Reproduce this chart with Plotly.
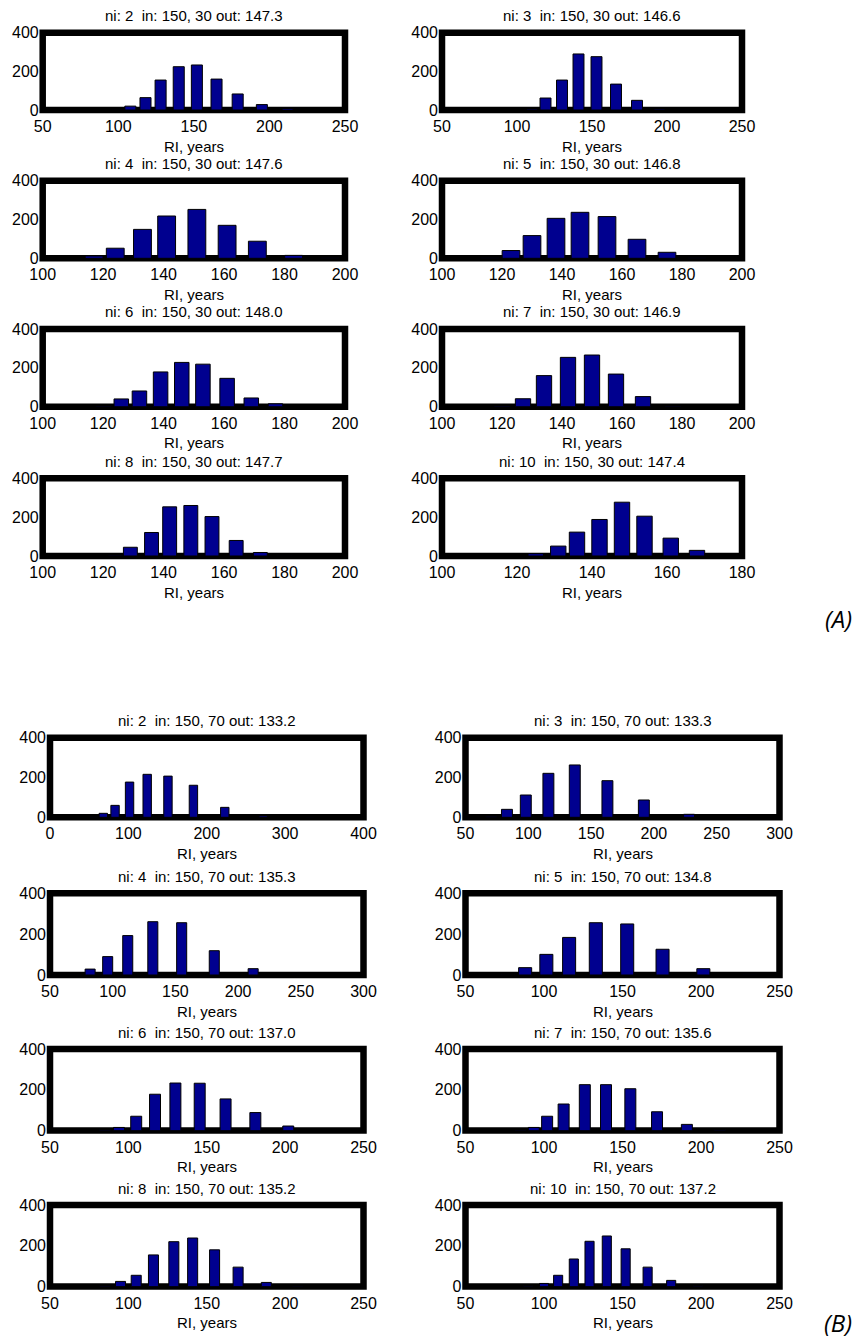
import plotly.graph_objects as go

# ---- histogram data: bin centres (RI, years) and counts per panel ----
# Group A: in = 150, 30
ni_a = [2, 3, 4, 5, 6, 7, 8, 10]
out_a = [147.3, 146.6, 147.6, 146.8, 148.0, 146.9, 147.7, 147.4]

a2_x = [100, 108, 118, 128, 140, 152, 165, 179, 195, 212]
a2_n = [3, 20, 64, 155, 224, 233, 160, 83, 28, 8]
a3_x = [110, 119, 130, 141, 153, 166, 180, 195, 211]
a3_n = [5, 62, 155, 290, 276, 134, 50, 5, 3]
a4_x = [117, 124, 133, 141, 151, 161, 171, 183, 195]
a4_n = [12, 52, 149, 218, 252, 170, 88, 15, 3]
a5_x = [116, 123, 130, 138, 146, 155, 165, 175, 185]
a5_n = [3, 40, 117, 206, 237, 215, 98, 31, 3]
a6_x = [120, 126, 132, 139, 146, 153, 161, 169, 177]
a6_n = [3, 40, 81, 179, 228, 219, 146, 45, 15]
a7_x = [120, 127, 134, 142, 150, 158, 167, 177]
a7_n = [4, 41, 160, 254, 266, 168, 52, 3]
a8_x = [124, 129, 136, 142, 149, 156, 164, 172, 180]
a8_n = [4, 45, 121, 253, 260, 203, 80, 18, 3]
a10_x = [125, 131, 136, 142, 148, 154, 161, 168]
a10_n = [12, 51, 123, 188, 277, 205, 92, 29]

# Group B: in = 150, 70
ni_b = [2, 3, 4, 5, 6, 7, 8, 10]
out_b = [133.2, 133.3, 135.3, 134.8, 137.0, 135.6, 135.2, 137.2]

b2_x = [56, 68, 83, 101.5, 124, 150.5, 183, 223, 272, 332]
b2_n = [3, 20, 60, 177, 216, 207, 161, 50, 7, 1]
b3_x = [70.5, 83, 98, 116, 137, 163, 192, 228, 270]
b3_n = [5, 40, 112, 221, 263, 184, 87, 15, 2]
b4_x = [70, 82, 96, 112, 132, 155, 181, 212, 247]
b4_n = [2, 29, 90, 193, 261, 256, 119, 31, 2]
b5_x = [77, 88, 101.5, 116, 133, 153, 175.5, 201.5, 231]
b5_n = [2, 36, 101, 184, 256, 250, 126, 31, 3]
b6_x = [85, 94, 105, 117, 130, 145.5, 162, 181, 202]
b6_n = [5, 15, 70, 178, 233, 232, 155, 88, 22]
b7_x = [85, 93.5, 102, 112.5, 126, 139.5, 155, 172, 191, 212]
b7_n = [3, 15, 70, 130, 225, 225, 205, 92, 30, 5]
b8_x = [85, 95, 105, 116, 129, 141, 155, 170, 188, 208]
b8_n = [5, 25, 55, 155, 220, 238, 180, 95, 20, 2]
b10_x = [90, 100, 109, 119, 129, 140, 152, 166, 181, 198]
b10_n = [5, 15, 55, 135, 222, 248, 185, 95, 30, 5]

# x-axis ranges and tick labels per panel
xr_a = [(50, 250), (50, 250), (100, 200), (100, 200),
        (100, 200), (100, 200), (100, 200), (100, 180)]
xt_a = [[50, 100, 150, 200, 250], [50, 100, 150, 200, 250],
        [100, 120, 140, 160, 180, 200], [100, 120, 140, 160, 180, 200],
        [100, 120, 140, 160, 180, 200], [100, 120, 140, 160, 180, 200],
        [100, 120, 140, 160, 180, 200], [100, 120, 140, 160, 180]]
xr_b = [(0, 400), (50, 300), (50, 300), (50, 250),
        (50, 250), (50, 250), (50, 250), (50, 250)]
xt_b = [[0, 100, 200, 300, 400], [50, 100, 150, 200, 250, 300],
        [50, 100, 150, 200, 250, 300], [50, 100, 150, 200, 250],
        [50, 100, 150, 200, 250], [50, 100, 150, 200, 250],
        [50, 100, 150, 200, 250], [50, 100, 150, 200, 250]]
y_ticks = [0, 200, 400]

series_a = [(a2_x, a2_n), (a3_x, a3_n), (a4_x, a4_n), (a5_x, a5_n),
            (a6_x, a6_n), (a7_x, a7_n), (a8_x, a8_n), (a10_x, a10_n)]
series_b = [(b2_x, b2_n), (b3_x, b3_n), (b4_x, b4_n), (b5_x, b5_n),
            (b6_x, b6_n), (b7_x, b7_n), (b8_x, b8_n), (b10_x, b10_n)]

# ---- styling / geometry (pixels) ----
W, H = 853, 1341
bar_w_a = [7.3, 7.3, 5.9, 5.9, 4.8, 5.1, 4.6, 4.1]
bar_w_b = [10.7, 8.7, 8.0, 8.3, 7.0, 7.0, 6.4, 5.8]

cols_a = [(42.7, 345.0), (442.0, 742.0)]
rows_a = [(32.7, 110.0), (180.7, 258.3), (329.0, 406.7), (478.3, 556.0)]
cols_b = [(50.0, 363.5), (465.5, 779.5)]
rows_b = [(737.7, 817.3), (893.3, 975.0), (1049.0, 1130.5), (1205.0, 1286.5)]

BAR_COLOR = "#00008F"
FONT = "Liberation Sans, Arial, Helvetica, sans-serif"
NBSP = "\u00a0"

fig = go.Figure()
layout = dict(
    width=W, height=H,
    margin=dict(l=0, r=0, t=0, b=0, autoexpand=False),
    paper_bgcolor="white", plot_bgcolor="rgba(0,0,0,0)",
    showlegend=False,
    font=dict(family=FONT, color="black", size=16),
)
shapes = []
annotations = []

panels = []
for k in range(8):
    panels.append(("A", k, series_a[k], ni_a[k], out_a[k], xr_a[k], xt_a[k],
                   bar_w_a[k], cols_a[k % 2], rows_a[k // 2], "30"))
for k in range(8):
    panels.append(("B", k, series_b[k], ni_b[k], out_b[k], xr_b[k], xt_b[k],
                   bar_w_b[k], cols_b[k % 2], rows_b[k // 2], "70"))

for i, (grp, k, (xs, ns), ni, out, xr, xt, bw, col, row, sd) in enumerate(panels):
    idx = i + 1
    xa = "x" if idx == 1 else f"x{idx}"
    ya = "y" if idx == 1 else f"y{idx}"
    fig.add_trace(go.Bar(
        x=xs, y=ns, width=bw, xaxis=xa, yaxis=ya,
        marker=dict(color=BAR_COLOR, line=dict(color="black", width=1)),
        hoverinfo="x+y",
    ))
    x0, x1 = col[0] / W, col[1] / W
    y0, y1 = 1 - row[1] / H, 1 - row[0] / H
    layout[f"xaxis{idx}"] = dict(
        domain=[x0, x1], range=list(xr), anchor=ya, automargin=False,
        tickvals=xt, ticktext=[str(v) for v in xt],
        showgrid=False, zeroline=False, showline=False, ticks="",
        tickfont=dict(size=16), ticklabelstandoff=5,
    )
    layout[f"yaxis{idx}"] = dict(
        domain=[y0, y1], range=[0, 400], anchor=xa, automargin=False,
        tickvals=y_ticks, ticktext=[str(v) for v in y_ticks],
        showgrid=False, zeroline=False, showline=False, ticks="",
        tickfont=dict(size=16), ticklabelstandoff=3,
    )
    # heavy axes box
    shapes.append(dict(
        type="rect", xref=f"{xa} domain", yref=f"{ya} domain",
        x0=0, x1=1, y0=0, y1=1, layer="below",
        line=dict(color="black", width=6.5), fillcolor="rgba(0,0,0,0)",
    ))
    annotations.append(dict(
        text=f"ni: {ni} {NBSP}in: 150, {sd} out: {out:.1f}",
        xref=f"{xa} domain", yref=f"{ya} domain", x=0.5, y=1,
        xanchor="center", yanchor="middle", yshift=17, showarrow=False,
        font=dict(size=15),
    ))
    annotations.append(dict(
        text="RI, years",
        xref=f"{xa} domain", yref=f"{ya} domain", x=0.5, y=0,
        xanchor="center", yanchor="middle", yshift=-36, showarrow=False,
        font=dict(size=15),
    ))

# group labels
for lab, py in (("(A)", 618), ("(B)", 1322)):
    annotations.append(dict(
        text=lab, xref="paper", yref="paper", x=838 / W, y=1 - py / H,
        xanchor="center", yanchor="middle", showarrow=False,
        font=dict(family="Open Sans, Noto Sans, sans-serif", size=24,
                  style="italic", weight=400),
    ))

layout["shapes"] = shapes
layout["annotations"] = annotations
fig.update_layout(**layout)
fig.write_html("out.html")
